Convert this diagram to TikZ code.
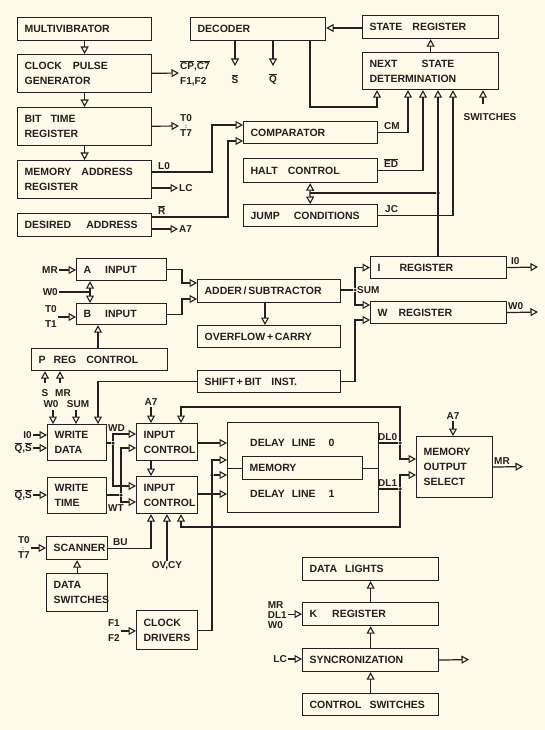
\documentclass[tikz,border=0pt]{standalone}
\usepackage{fontspec}
\setmainfont{Liberation Sans}
\usepackage{tikz}
\usetikzlibrary{arrows.meta, positioning}
\definecolor{paper}{HTML}{FEF9E8}
\definecolor{ink}{HTML}{222020}
\newcommand{\ovl}[1]{$\overline{\mbox{#1}}$}
\newcommand{\hsk}[1]{\hspace{#1pt}}

\begin{document}
\begin{tikzpicture}[x=1pt, y=-1pt,
        blk/.code 2 args={\pgfmathsetmacro\txtw{#1-14}%
            \tikzset{draw=ink, line width=1.2pt, text=ink, anchor=north west, minimum width=#1pt, minimum height=#2pt,
                text width=\txtw pt, inner xsep=7pt, inner ysep=0pt, align=left, font=\fontsize{10.5}{15}\selectfont\bfseries}},
        txt/.style = {text=ink, inner sep=0pt, font=\fontsize{10.5}{15}\selectfont\bfseries},
        lbl/.style = {text=ink, inner sep=1pt, align=left, font=\fontsize{10}{15}\selectfont\bfseries},
        wire/.style = {draw=ink, line width=1.2pt},
        arrow/.style = {wire, -{Triangle[open, length=7.5pt, width=8pt, line width=1.1pt]}},
        dot/.style = {circle, fill=ink, inner sep=0pt, minimum size=3.5pt}
    ]
    \fill[paper] (0,0) rectangle (545,730);

    % Nodes
    \node[blk={134}{23}] (multi) at (17,17) {MULTIVIBRATOR};
    \node[blk={134}{38}] (clock) at (17,54) {CLOCK\hsk{11}PULSE\\GENERATOR};
    \node[blk={134}{38}] (bittime) at (17,107) {BIT\hsk{9}TIME\\REGISTER};
    \node[blk={134}{38}] (memaddr) at (17,160) {MEMORY\hsk{10}ADDRESS\\REGISTER};
    \node[blk={134}{23}] (desired) at (17,213) {DESIRED\hsk{15}ADDRESS};
    \node[blk={135}{23}] (decoder) at (190,17) {DECODER};
    \node[blk={136}{23}] (statereg) at (362,15) {STATE\hsk{10}REGISTER};
    \node[blk={136}{37}] (nextstate) at (362,52) {NEXT\hsk{24}STATE\\DETERMINATION};
    \node[blk={134}{22}] (comparator) at (243,121) {COMPARATOR};
    \node[blk={134}{24}] (halt) at (243,158) {HALT\hsk{10}CONTROL};
    \node[blk={134}{22}] (jump) at (243,204) {JUMP\hsk{14}CONDITIONS};
    \node[blk={90}{22}] (ainput) at (76,258) {A\hsk{14}INPUT};
    \node[blk={90}{21}] (binput) at (76,303) {B\hsk{14}INPUT};
    \node[blk={143}{23}] (adder) at (197,279) {ADDER\,/\,SUBTRACTOR};
    \node[blk={143}{22}] (overflow) at (197,325) {OVERFLOW\,+\,CARRY};
    \node[blk={136}{22}] (ireg) at (370,256) {I\hsk{19}REGISTER};
    \node[blk={136}{22}] (wreg) at (370,301) {W\hsk{11}REGISTER};
    \node[blk={136}{22}] (preg) at (31,348) {P\hsk{8}REG\hsk{10}CONTROL};
    \node[blk={143}{22}] (shiftbit) at (197,370) {SHIFT\,+\,BIT\hsk{10}INST.};
    \node[blk={59}{36}] (wdata) at (47,424) {WRITE\\DATA};
    \node[blk={59}{36}] (wtime) at (47,477) {WRITE\\TIME};
    \node[blk={61}{37}] (inctl0) at (136,423) {INPUT\\CONTROL};
    \node[blk={61}{37}] (inctl1) at (136,476) {INPUT\\CONTROL};
    \node[blk={151}{90}] (delay) at (227,422) {};
    \node[txt, anchor=west] (dl0text) at (250,443) {DELAY\hsk{7}LINE\hsk{13}0};
    \node[txt, anchor=west] (dl1text) at (250,494) {DELAY\hsk{7}LINE\hsk{13}1};
    \node[blk={120}{23}] (memory) at (242,456) {MEMORY};
    \node[blk={76}{61}] (mos) at (416,436) {MEMORY\\OUTPUT\\SELECT};
    \node[blk={61}{23}] (scanner) at (46,536) {SCANNER};
    \node[blk={61}{38}] (dataswitch) at (46,573) {DATA\\SWITCHES};
    \node[blk={61}{39}] (clkdrv) at (136,610) {CLOCK\\DRIVERS};
    \node[blk={136}{23}] (lights) at (302,557) {DATA\hsk{8}LIGHTS};
    \node[blk={136}{23}] (kreg) at (302,602) {K\hsk{15}REGISTER};
    \node[blk={136}{23}] (sync) at (302,648) {SYNCRONIZATION};
    \node[blk={136}{22}] (ctlswitch) at (302,693) {CONTROL\hsk{8}SWITCHES};

    % Labels
    \node[lbl, anchor=west] (cpout) at (179,73) {\ovl{CP},\ovl{C7}\\F1,F2};
    \node[lbl, anchor=west] (tout) at (179,126) {T0\\T7};
    \node[lbl, inner sep=0pt, font=\fontsize{6}{6}\selectfont\bfseries] (tcolon) at (186,127) {:};
    \node[lbl, anchor=south west] (l0) at (157,171) {L0};
    \node[lbl, anchor=west] (lcout) at (178,188) {LC};
    \node[lbl, anchor=south west] (rbar) at (157,216) {\ovl{R}};
    \node[lbl, anchor=west] (a7out) at (178,229) {A7};
    \node[lbl] (sbar) at (235,79) {\ovl{S}};
    \node[lbl] (qbar) at (273,79) {\ovl{Q}};
    \node[lbl, anchor=south west] (cm) at (383,131) {CM};
    \node[lbl, anchor=south west] (edbar) at (383,169) {\ovl{ED}};
    \node[lbl, anchor=south west] (jc) at (384,214) {JC};
    \node[lbl] (switches) at (490,117) {SWITCHES};
    \node[lbl, anchor=east] (mrin) at (59,270) {MR};
    \node[lbl, anchor=east] (w0in) at (59,292) {W0};
    \node[lbl, anchor=east] (t01) at (58,317) {T0\\T1};
    \node[lbl, anchor=west] (sum) at (356,290) {SUM};
    \node[lbl, anchor=south west] (i0) at (510,266) {I0};
    \node[lbl, anchor=south west] (w0) at (507,311) {W0};
    \node[lbl] (sin) at (45,393) {S};
    \node[lbl] (mrp) at (63,393) {MR};
    \node[lbl] (w0wd) at (51,404) {W0};
    \node[lbl] (sumwd) at (78,404) {SUM};
    \node[lbl, anchor=east] (i0in) at (33,435) {I0};
    \node[lbl, anchor=east] (qs0) at (33,448) {\ovl{Q},\ovl{S}};
    \node[lbl, anchor=east] (qs1) at (33,495) {\ovl{Q},\ovl{S}};
    \node[lbl, anchor=south west] (wd) at (107,433) {WD};
    \node[lbl, anchor=north west] (wt) at (107,503) {WT};
    \node[lbl] (a7ic) at (151,402) {A7};
    \node[lbl, anchor=south west] (dl0) at (377,442) {DL0};
    \node[lbl, anchor=south west] (dl1) at (377,488) {DL1};
    \node[lbl] (a7mos) at (453,416) {A7};
    \node[lbl, anchor=south west] (mrout) at (493,466) {MR};
    \node[lbl, anchor=east] (t07) at (31,548) {T0\\T7};
    \node[lbl, inner sep=0pt, font=\fontsize{6}{6}\selectfont\bfseries] (scolon) at (23,549) {:};
    \node[lbl, anchor=south west] (bu) at (112,547) {BU};
    \node[lbl] (ovcy) at (167,566) {OV,CY};
    \node[lbl, anchor=east] (f12) at (121,631) {F1\\F2};
    \node[lbl, anchor=east, font=\fontsize{10}{10}\selectfont\bfseries] (kin) at (288,615) {MR\\DL1\\W0};
    \node[lbl, anchor=east] (lcin) at (288,659) {LC};

    % Junctions and free ends
    \node[dot] (jdot) at (438,193) {};
    \node[dot, minimum size=3pt] (sumdot) at (355,290) {};
    \node[dot] (wddot) at (113,443) {};
    \node[dot] (wtdot) at (121,495) {};
    \node[dot] (dl0dot) at (400,443) {};
    \node[dot] (dl1dot) at (400,489) {};
    \node[dot] (cddot) at (212,475) {};
    \coordinate (hj) at (310,193);
    \coordinate (w0split) at (90,292);
    \coordinate (stip) at (235,66);
    \coordinate (qtip) at (273,66);
    \coordinate (swin) at (483,104);
    \coordinate (i0tip) at (538,267);
    \coordinate (w0tip) at (538,312);
    \coordinate (sfoot) at (45,383);
    \coordinate (mrfoot) at (60,383);
    \coordinate (w0foot) at (53,410);
    \coordinate (sumfoot) at (76,410);
    \coordinate (mrtip) at (523,466.5);
    \coordinate (synctip) at (469,659.5);

    % Arrows
    \draw[arrow] (multi) -- (clock);
    \draw[arrow] (clock) -- (bittime);
    \draw[arrow] (bittime) -- (memaddr);
    \draw[arrow] (clock) -- (cpout);
    \draw[arrow] (bittime) -- (tout);
    \draw[arrow] (memaddr.east |- 0,172) -| (212,125) -- (comparator.west |- 0,125);
    \draw[arrow] (memaddr.east |- lcout) -- (lcout);
    \draw[arrow] (desired.east |- 0,217) -| (228,141) -- (comparator.west |- 0,141);
    \draw[arrow] (desired.east |- a7out) -- (a7out);
    \draw[arrow] (decoder.south -| stip) -- (stip);
    \draw[arrow] (decoder.south -| qtip) -- (qtip);
    \draw[arrow] (310,0 |- decoder.south) |- (377,107) -- (377,0 |- nextstate.south);
    \draw[arrow] (statereg.west |- 0,28) -- (decoder.east |- 0,28);
    \draw[arrow] (nextstate) -- (statereg);
    \draw[arrow] (comparator.east) -| (408,0 |- nextstate.south);
    \draw[arrow] (halt.east) -| (423,0 |- nextstate.south);
    \draw[arrow] (ireg.north -| 438,0) -- (438,0 |- nextstate.south);
    \draw[arrow] (jump.east) -| (453,0 |- nextstate.south);
    \draw[arrow] (swin) -- (nextstate.south -| swin);
    \draw[wire] (jdot) -- (hj);
    \draw[arrow] (hj) -- (halt);
    \draw[arrow] (hj) -- (jump);

    \draw[arrow] (mrin) -- (ainput.west |- mrin);
    \draw[wire] (w0in) -- (w0split);
    \draw[arrow] (w0split) -- (ainput.south -| w0split);
    \draw[arrow] (w0split) -- (binput.north -| w0split);
    \draw[arrow] (t01) -- (binput.west |- t01);
    \draw[arrow] (ainput.east) -| (182,283) -- (adder.west |- 0,283);
    \draw[arrow] (binput.east) -| (182,299) -- (adder.west |- 0,299);
    \draw[arrow] (265,0 |- adder.south) -- (265,0 |- overflow.north);
    \draw[arrow] (98,0 |- preg.north) -- (98,0 |- binput.south);
    \draw[wire] (adder.east |- sumdot) -- (sumdot);
    \draw[arrow] (sumdot) |- (ireg.west);
    \draw[arrow] (sumdot) |- (wreg.west |- 0,305);
    \draw[arrow] (ireg.east) -- (i0tip);
    \draw[arrow] (wreg.east) -- (w0tip);
    \draw[arrow] (shiftbit.east) -| (355,320) -- (wreg.west |- 0,320);
    \draw[arrow] (shiftbit.west) -| (98,0 |- wdata.north);
    \draw[arrow] (sfoot) -- (preg.south -| sfoot);
    \draw[arrow] (mrfoot) -- (preg.south -| mrfoot);
    \draw[arrow] (w0foot) -- (wdata.north -| w0foot);
    \draw[arrow] (sumfoot) -- (wdata.north -| sumfoot);

    \draw[arrow] (i0in) -- (wdata.west |- i0in);
    \draw[arrow] (qs0) -- (wdata.west |- qs0);
    \draw[arrow] (qs1) -- (wtime.west |- qs1);
    \draw[wire] (wdata.east |- wddot) -- (wddot);
    \draw[arrow] (wddot) |- (inctl0.west |- 0,434);
    \draw[arrow] (wddot) |- (inctl1.west |- 0,486);
    \draw[wire] (wtime.east |- wtdot) -- (wtdot);
    \draw[arrow] (wtdot) |- (inctl0.west |- 0,448);
    \draw[arrow] (wtdot) |- (inctl1.west |- 0,502);
    \draw[arrow] (a7ic) -- (inctl0.north -| a7ic);
    \draw[arrow] (151,0 |- inctl0.south) -- (151,0 |- inctl1.north);
    \draw[arrow] (inctl0.east |- 0,443) -- (delay.west |- 0,443);
    \draw[arrow] (inctl1.east |- 0,494) -- (delay.west |- 0,494);
    \draw[wire] (memory.west) -- (delay.west |- memory.west);
    \draw[wire] (memory.east) -- (delay.east |- memory.east);
    \draw[wire] (delay.east |- dl0dot) -- (dl0dot);
    \draw[wire] (delay.east |- dl1dot) -- (dl1dot);
    \draw[arrow] (dl0dot) |- (181,407) -- (181,0 |- inctl0.north);
    \draw[arrow] (dl0dot) |- (mos.west |- 0,459);
    \draw[arrow] (dl1dot) |- (mos.west |- 0,475);
    \draw[arrow] (dl1dot) |- (181,527) -- (181,0 |- inctl1.south);
    \draw[arrow] (clkdrv.east) -| (212,460) -- (delay.west |- 0,460);
    \draw[arrow] (cddot) -- (delay.west |- cddot);
    \draw[arrow] (a7mos) -- (mos.north -| a7mos);
    \draw[arrow] (mos.east) -- (mrtip);

    \draw[arrow] (t07) -- (scanner.west |- t07);
    \draw[arrow] (scanner.east) -| (151,0 |- inctl1.south);
    \draw[arrow] (ovcy) -- (inctl1.south -| ovcy);
    \draw[arrow] (dataswitch) -- (scanner);
    \draw[arrow] (f12) -- (clkdrv.west |- f12);

    \draw[arrow] (kreg) -- (lights);
    \draw[arrow] (sync) -- (kreg);
    \draw[arrow] (ctlswitch) -- (sync);
    \draw[arrow] (kin.east |- kreg) -- (kreg.west);
    \draw[arrow] (lcin) -- (sync.west |- lcin);
    \draw[arrow] (sync.east) -- (synctip);

\end{tikzpicture}
\end{document}
